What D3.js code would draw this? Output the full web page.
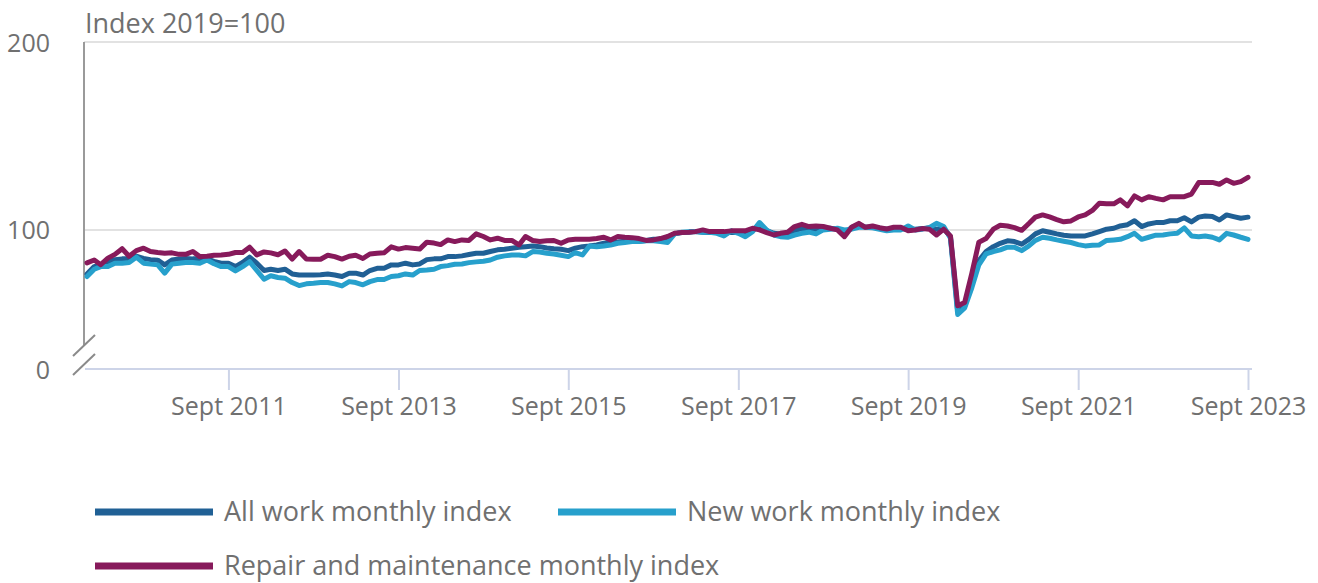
<!DOCTYPE html>
<html>
<head>
<meta charset="utf-8">
<script src="https://cdn.jsdelivr.net/npm/d3@7"></script>
<style>
  body { margin: 0; background: #fff; }
  text { font-family: "Open Sans", sans-serif; }
</style>
</head>
<body>
<div id="chart"></div>
<script>
// Chart size
const width = 1318;
const height = 583;

// Monthly series, Jan 2010 to Sept 2023 (index 2019=100)
const startMonth = new Date(2010, 0, 1);

const allWork = [
  76.6, 80.5, 81.4, 83, 84.2, 84.6, 84.6, 86, 84.8, 84.2,
  83.9, 81.4, 84, 84.6, 84.8, 84.6, 84.6, 84.6, 83.3, 82.3,
  82.3, 80.5, 82.7, 85.5, 82.3, 78.4, 79.1, 78.4, 79.1, 76.6,
  76, 76, 76, 76.2, 76.6, 76, 75.2, 77, 77, 76,
  78.4, 79.6, 79.6, 81.4, 81.4, 82.3, 81.4, 81.9, 84.2, 84.6,
  84.6, 85.8, 85.8, 86.2, 86.9, 87.6, 87.6, 88.5, 89.4, 89.7,
  90.3, 90.8, 91.1, 91.5, 91.1, 90.4, 90, 89.7, 89, 90.3,
  91.1, 91.5, 92, 92.9, 93.3, 93.6, 94, 94.4, 94, 94.4,
  95, 95, 95.6, 97.9, 98.6, 98.8, 99.1, 98.8, 98.6, 98.8,
  98.2, 98.8, 98.6, 97.3, 100.4, 102.1, 99.6, 98.2, 97.9, 97.3,
  99.6, 100.7, 100.4, 100, 100.9, 100.9, 100.4, 98.2, 101.4, 102.8,
  101.4, 101.4, 100.9, 100.4, 100.4, 100.9, 100, 100.4, 100.7, 101.2,
  100.4, 100.7, 96.4, 56.7, 59.6, 71.3, 83.7, 88.5, 91.1, 92.9,
  94.2, 93.8, 92.4, 95, 97.9, 99.6, 98.8, 97.9, 97.2, 96.8,
  96.8, 96.8, 97.9, 99.1, 100.4, 100.9, 102.1, 102.8, 104.9, 101.8,
  103.2, 103.9, 103.9, 104.9, 104.9, 106.5, 104.3, 106.8, 107.4, 107.1,
  105.3, 108, 107.1, 106.2, 106.8
];

const newWork = [
  75.2, 79.1, 80.5, 80.5, 82.3, 82.3, 82.7, 85.5, 82.3, 81.8,
  81.4, 77, 81.8, 82.3, 82.7, 82.7, 82.3, 84, 82, 80.5,
  80.5, 78.2, 80.5, 83.1, 78.4, 73.8, 75.6, 74.7, 74.3, 72,
  70.4, 71.3, 71.6, 72, 72, 71.3, 70.2, 72.5, 72, 70.8,
  72.5, 73.6, 73.6, 75.2, 75.6, 76.6, 76, 78.4, 78.7, 79.1,
  80.5, 81, 81.7, 81.9, 82.6, 83, 83.3, 84, 85.5, 86.2,
  86.7, 86.7, 86.2, 88.5, 88.3, 87.6, 87.2, 86.5, 85.8, 87.9,
  86.7, 91.5, 91.1, 91.5, 92, 92.9, 93.3, 93.8, 93.8, 94.2,
  94.2, 93.8, 93.3, 97.9, 98.8, 99.1, 99.1, 98.8, 98.8, 98.2,
  96.8, 99.5, 98.2, 96.4, 99.1, 103.9, 100, 97.3, 96.4, 96.1,
  97.3, 98.2, 98.8, 97.9, 100, 100.4, 100.9, 100, 100.4, 101.4,
  101.4, 101.1, 100.4, 99.6, 100, 100, 102.1, 100, 100.4, 101.2,
  103.5, 101.8, 95.6, 55, 58.5, 69.3, 81.4, 87.2, 88.5, 89.4,
  90.8, 90.8, 89, 91.5, 94.4, 96.1, 95.6, 94.7, 94, 93.3,
  92.2, 91.5, 91.8, 92, 94.4, 94.7, 95, 96.4, 98.2, 95,
  96.1, 97.2, 97.3, 97.9, 98.2, 101.1, 96.8, 96.4, 96.8, 96.1,
  94.7, 98.2, 97.3, 96.1, 95
];

const repairMaint = [
  82.5, 84, 81.5, 85, 87, 90, 86, 89, 90.3, 88.5,
  88, 87.6, 87.8, 87, 87, 88.5, 85.8, 86, 86.5, 86.7,
  87, 88, 88, 90.8, 86.7, 88.3, 87.8, 86.8, 88.8, 84.5,
  88.5, 84.5, 84.4, 84.4, 86.5, 85.8, 84.5, 86, 86.5, 84.8,
  87.2, 87.6, 87.8, 91, 89.8, 90.6, 90.2, 89.8, 93.5, 93,
  92.2, 94.7, 93.8, 94.7, 94.4, 97.9, 96.5, 94.7, 95.6, 94.4,
  94.4, 92, 96.5, 94.4, 93.8, 94.2, 94.4, 92.9, 94.7, 95,
  95, 95, 95.4, 96.1, 94.7, 96.5, 96.1, 95.9, 95.4, 94.4,
  94.7, 95.4, 96.5, 98.2, 98.6, 98.8, 99.1, 100, 99.1, 99.1,
  99.1, 99.5, 99.5, 99.5, 100.9, 100, 98.6, 97.3, 98.2, 98.8,
  101.8, 103, 101.8, 102.1, 101.8, 100.9, 100, 96.4, 101.4, 103.5,
  101.4, 102.1, 101.2, 100.5, 101.4, 101.4, 99.6, 100, 100.7, 100.4,
  97.3, 100.4, 96.8, 59.6, 61.4, 77, 93.5, 95.4, 100.4, 102.5,
  102.1, 101.2, 99.8, 103.4, 106.8, 108, 106.9, 105.5, 104.3, 104.8,
  106.9, 108, 110.4, 114.2, 113.9, 113.9, 116, 112.8, 118.1, 116,
  117.7, 116.8, 116, 117.7, 117.7, 117.7, 119.1, 125.2, 125.3, 125.3,
  124.3, 126.6, 124.8, 125.7, 128
];

const seriesNames = ["All work monthly index", "New work monthly index", "Repair and maintenance monthly index"];
const seriesColors = ["#206095", "#27a0cc", "#871a5b"];

// Axis labels
const yTicks = [100, 200];
const xTickYears = [2011, 2013, 2015, 2017, 2019, 2021, 2023];

// Broken axis: the linear part stops at about 26, the bottom is labelled 0
const axisFloor = 26;

const months = allWork.map((d, i) => d3.timeMonth.offset(startMonth, i));

let svg = d3.select("#chart").append("svg")
  .attr("width", width)
  .attr("height", height);

const x = d3.scaleTime()
  .domain([months[0], months[months.length - 1]])
  .range([87, 1248]);

const y = d3.scaleLinear()
  .domain([axisFloor, 200])
  .range([369, 42]);

const textColor = "#707070";

// Horizontal gridlines
svg.append("g")
  .selectAll("line")
  .data(yTicks)
  .join("line")
  .attr("x1", 84)
  .attr("x2", 1252)
  .attr("y1", d => y(d))
  .attr("y2", d => y(d))
  .style("stroke", "#e2e2e2")
  .style("stroke-width", 2);

// Y axis tick labels
const yAxis = svg.append("g")
  .attr("transform", "translate(84,0)")
  .call(d3.axisLeft(y)
    .tickValues([axisFloor].concat(yTicks))
    .tickFormat(d => d === axisFloor ? "0" : d)
    .tickSize(0)
    .tickPadding(34));
yAxis.select(".domain").remove();
yAxis.selectAll("text")
  .style("font-size", "25px")
  .style("fill", textColor)
  .attr("dy", "0.36em");

// Vertical axis line with break marks
svg.append("line")
  .attr("x1", 84).attr("x2", 84)
  .attr("y1", y(200)).attr("y2", 346)
  .style("stroke", "#9a9a9a")
  .style("stroke-width", 2);

svg.append("g")
  .selectAll("line")
  .data([0, 19])
  .join("line")
  .attr("x1", 73).attr("x2", 95)
  .attr("y1", d => 356 + d)
  .attr("y2", d => 335 + d)
  .style("stroke", "#8a8a8a")
  .style("stroke-width", 2);

// Y axis title
svg.append("text")
  .attr("x", 85)
  .attr("y", 33)
  .style("font-size", "27px")
  .style("fill", textColor)
  .text("Index 2019=100");

// X axis
const xAxis = svg.append("g")
  .attr("transform", "translate(0,369)")
  .call(d3.axisBottom(x)
    .tickValues(xTickYears.map(yr => new Date(yr, 8, 1)))
    .tickFormat(d => "Sept " + d.getFullYear())
    .tickSize(21)
    .tickSizeOuter(0)
    .tickPadding(7));
xAxis.select(".domain").remove();
xAxis.selectAll("line")
  .style("stroke", "#cdd4e8")
  .style("stroke-width", 2);
xAxis.selectAll("text")
  .style("font-size", "25px")
  .style("fill", textColor);

svg.append("line")
  .attr("x1", 85).attr("x2", 1252)
  .attr("y1", 369).attr("y2", 369)
  .style("stroke", "#cdd4e8")
  .style("stroke-width", 2);

// Lines
const line = d3.line()
  .x((d, i) => x(months[i]))
  .y(d => y(d));

svg.append("g")
  .selectAll("path")
  .data([allWork, newWork, repairMaint])
  .join("path")
  .attr("d", d => line(d))
  .style("fill", "none")
  .style("stroke", (d, i) => seriesColors[i])
  .style("stroke-width", 5)
  .style("stroke-linejoin", "round")
  .style("stroke-linecap", "round");

// Legend
const legendPos = [{x: 95, y: 512}, {x: 558, y: 512}, {x: 95, y: 566}];

let legend = svg.append("g")
  .selectAll("g")
  .data(seriesNames)
  .join("g")
  .attr("transform", (d, i) => "translate(" + legendPos[i].x + "," + legendPos[i].y + ")");

legend.append("line")
  .attr("x1", 0).attr("x2", 118)
  .style("stroke", (d, i) => seriesColors[i])
  .style("stroke-width", 7);

legend.append("text")
  .attr("x", 129)
  .attr("dy", "0.35em")
  .style("font-size", "27px")
  .style("fill", textColor)
  .text(d => d);
</script>
</body>
</html>
